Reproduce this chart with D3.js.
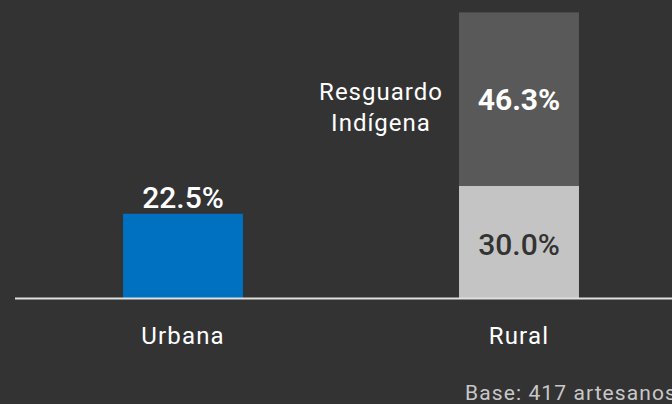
<!DOCTYPE html>
<html lang="es">
<head>
<meta charset="UTF-8">
<title>Artesanos por zona</title>
<script src="https://d3js.org/d3.v7.min.js"></script>
<style>
  body { margin: 0; background: #333333; }
  svg { display: block; font-family: Roboto, "DejaVu Sans", sans-serif; }
</style>
</head>
<body>
<svg width="672" height="404"></svg>
<script>
// data
const categories = ["Urbana", "Rural"];
const baseValues = [22.5, 30.0];      // bottom segment
const resguardoValues = [0, 46.3];    // top segment (Resguardo Indígena)
const baseColors = ["#0070c0", "#c4c4c4"];
const resguardoColor = "#595959";
const footnote = "Base: 417 artesanos";

const svg = d3.select("svg");
const baseline = 298;

const x = d3.scaleBand()
  .domain(categories)
  .range([15, 687])
  .paddingInner(0.643)
  .paddingOuter(0.3215);

const y = d3.scaleLinear()
  .domain([0, 30])
  .range([baseline, baseline - 112.3]);

// bottom segment
svg.selectAll("rect.base")
  .data(categories)
  .enter().append("rect")
  .attr("class", "base")
  .attr("x", d => x(d))
  .attr("width", x.bandwidth())
  .attr("y", (d, i) => y(baseValues[i]))
  .attr("height", (d, i) => y(0) - y(baseValues[i]))
  .attr("fill", (d, i) => baseColors[i]);

// top segment
svg.selectAll("rect.top")
  .data(categories.filter((d, i) => resguardoValues[i] > 0))
  .enter().append("rect")
  .attr("class", "top")
  .attr("x", d => x(d))
  .attr("width", x.bandwidth())
  .attr("y", d => { const i = categories.indexOf(d); return y(baseValues[i] + resguardoValues[i]); })
  .attr("height", d => { const i = categories.indexOf(d); return y(baseValues[i]) - y(baseValues[i] + resguardoValues[i]); })
  .attr("fill", resguardoColor);

// baseline
svg.append("line")
  .attr("x1", 15).attr("x2", 672)
  .attr("y1", baseline + 0.5).attr("y2", baseline + 0.5)
  .attr("stroke", "#e0e0e0")
  .attr("stroke-width", 2);

// category labels
svg.selectAll("text.cat")
  .data(categories)
  .enter().append("text")
  .attr("class", "cat")
  .attr("x", d => x(d) + x.bandwidth() / 2)
  .attr("y", 344)
  .attr("text-anchor", "middle")
  .attr("fill", "#ffffff")
  .style("font-size", "24px")
  .style("letter-spacing", "1.2px")
  .text(d => d);

// value labels
const fmt = v => v.toFixed(1) + "%";
// Urbana: above bar
svg.append("text")
  .attr("x", x("Urbana") + x.bandwidth() / 2)
  .attr("y", y(baseValues[0]) - 6)
  .attr("text-anchor", "middle")
  .attr("fill", "#ffffff")
  .style("font-size", "30px")
  .style("font-weight", 500)
  .text(fmt(baseValues[0]));

// Rural bottom: inside
svg.append("text")
  .attr("x", x("Rural") + x.bandwidth() / 2)
  .attr("y", (y(0) + y(baseValues[1])) / 2 + 13)
  .attr("text-anchor", "middle")
  .attr("fill", "#333333")
  .style("font-size", "30px")
  .style("font-weight", 500)
  .text(fmt(baseValues[1]));

// Rural top: inside, bold
svg.append("text")
  .attr("x", x("Rural") + x.bandwidth() / 2)
  .attr("y", 110)
  .attr("text-anchor", "middle")
  .attr("fill", "#ffffff")
  .style("font-size", "30px")
  .style("font-weight", "bold")
  .text(fmt(resguardoValues[1]));

// series label
const lbl = svg.append("text")
  .attr("x", 381)
  .attr("y", 100)
  .attr("text-anchor", "middle")
  .attr("fill", "#ffffff")
  .style("font-size", "24px")
  .style("letter-spacing", "1px");
lbl.append("tspan").attr("x", 381).attr("dy", 0).text("Resguardo");
lbl.append("tspan").attr("x", 381).attr("dy", 31).text("Indígena");

// footnote
svg.append("text")
  .attr("x", 465)
  .attr("y", 400)
  .attr("fill", "#c8c8c8")
  .style("font-size", "21px")
  .style("letter-spacing", "1.1px")
  .text(footnote);
</script>
</body>
</html>
